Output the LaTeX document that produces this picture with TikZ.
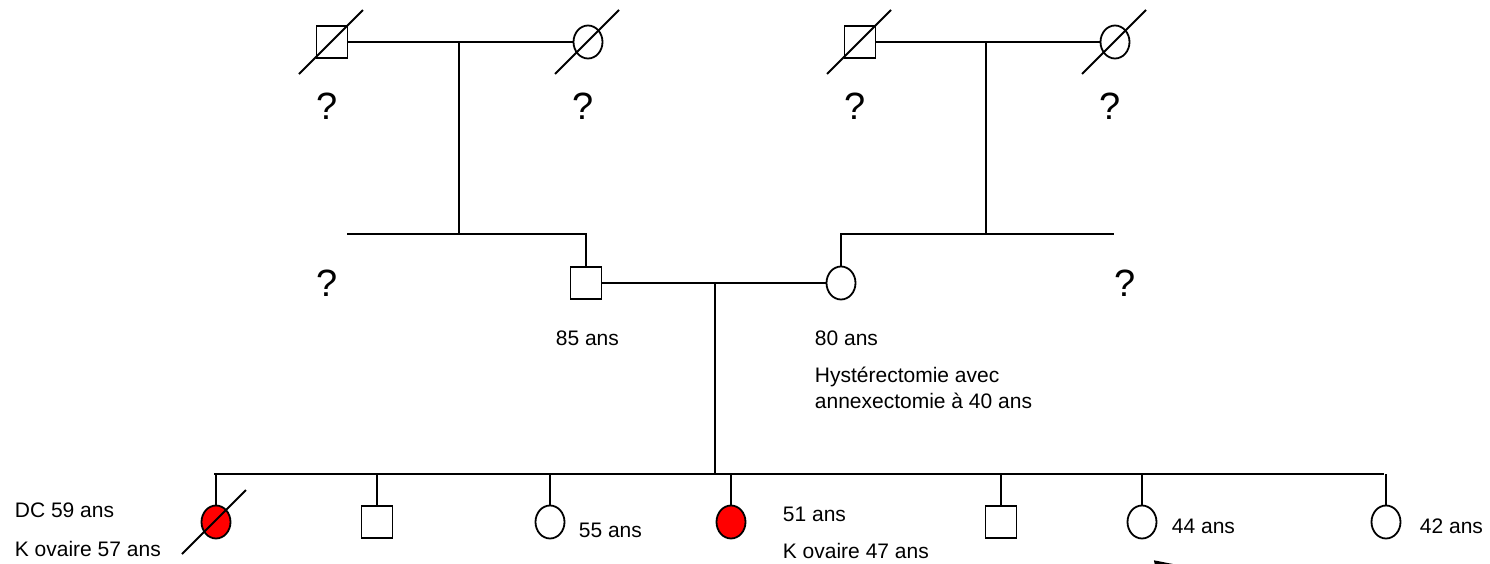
\documentclass[tikz,border=0pt]{standalone}
\usepackage{fontspec}
\setmainfont{Liberation Sans}
\usetikzlibrary{arrows.meta,shapes.geometric}

\tikzset{
  male/.style={draw,rectangle,minimum width=15.5pt,minimum height=16pt,inner sep=0pt},
  female/.style={draw,ellipse,minimum width=14.5pt,minimum height=16.5pt,inner sep=0pt},
  femaleK/.style={female,fill=red},
  lbl/.style={anchor=base west,inner sep=0pt,font=\fontsize{10.5}{12.6}\selectfont},
  unk/.style={anchor=base,inner sep=0pt,font=\fontsize{19}{23}\selectfont},
}

\begin{document}
\begin{tikzpicture}[x=0.5pt,y=-0.5pt,line width=0.9pt]
  \useasboundingbox (0,0) rectangle (1490,563);

  % grandparents
  \node[male]   (gfP) at (332,42)  {};
  \node[female] (gmP) at (588,42)  {};
  \node[male]   (gfM) at (860,42)  {};
  \node[female] (gmM) at (1115,42) {};
  \foreach \n in {gfP,gmP,gfM,gmM}{
    \draw (\n.center) ++(-33,32) -- ++(64,-64);
    \node[unk] (u\n) at ([xshift=-2.5pt,yshift=-38.5pt]\n.center) {?};}

  \draw (gfP) -- (gmP);
  \draw (gfM) -- (gmM);
  \coordinate (mP) at (459,42);
  \coordinate (mM) at (986,42);

  % parents
  \node[male]   (father) at (586,283) {};
  \node[female] (mother) at (841,283) {};
  \draw (father) -- (mother);

  \coordinate (sP1) at (347,234);
  \coordinate (sM2) at (1114,234);
  \draw (sP1) -- (father.north |- sP1) -- (father.north);
  \draw (mP) -- (mP |- sP1);
  \draw (mother.north) -- (mother.north |- sM2) -- (sM2);
  \draw (mM) -- (mM |- sM2);

  \node[unk] (uP) at (327,296) {?};
  \node[unk] (uM) at (1125,296) {?};

  \node[lbl] (ageF) at (555,345) {85 ans};
  \node[lbl] (ageM) at (814,345) {80 ans};
  \node[lbl] (histM) at (814,382) {Hystérectomie avec};
  \node[lbl] (histM2) at (814,408) {annexectomie à 40 ans};

  % children
  \coordinate (mC) at (715,283);
  \coordinate (sC1) at (214,474);
  \coordinate (sC2) at (1384,474);
  \draw (sC1) -- (sC2);
  \draw (mC) -- (mC |- sC1);
  \foreach \i/\x/\kind in {1/216/femaleK,2/377/male,3/550/female,
      4/731/femaleK,5/1001/male,6/1142/female,7/1386/female}{
    \node[\kind] (c\i) at (\x,522) {};
    \draw (c\i.north) -- (c\i.north |- sC1);}
  \draw (c1.center) ++(-34,32) -- ++(64,-64);

  \node[lbl] (dc1) at (14,517) {DC 59 ans};
  \node[lbl] (dx1) at (14,556) {K ovaire 57 ans};
  \node[lbl] (age3) at (578,537) {55 ans};
  \node[lbl] (age4) at (782,521) {51 ans};
  \node[lbl] (dx4) at (782,558) {K ovaire 47 ans};
  \node[lbl] (age6) at (1171,533) {44 ans};
  \node[lbl] (age7) at (1419,533) {42 ans};

  % proband
  \coordinate (pbStart) at (1085,581);
  \coordinate (pbEnd) at (1173,564);
  \draw[-{Triangle[length=9pt,width=7pt]}] (pbStart) -- (pbEnd);
\end{tikzpicture}
\end{document}
